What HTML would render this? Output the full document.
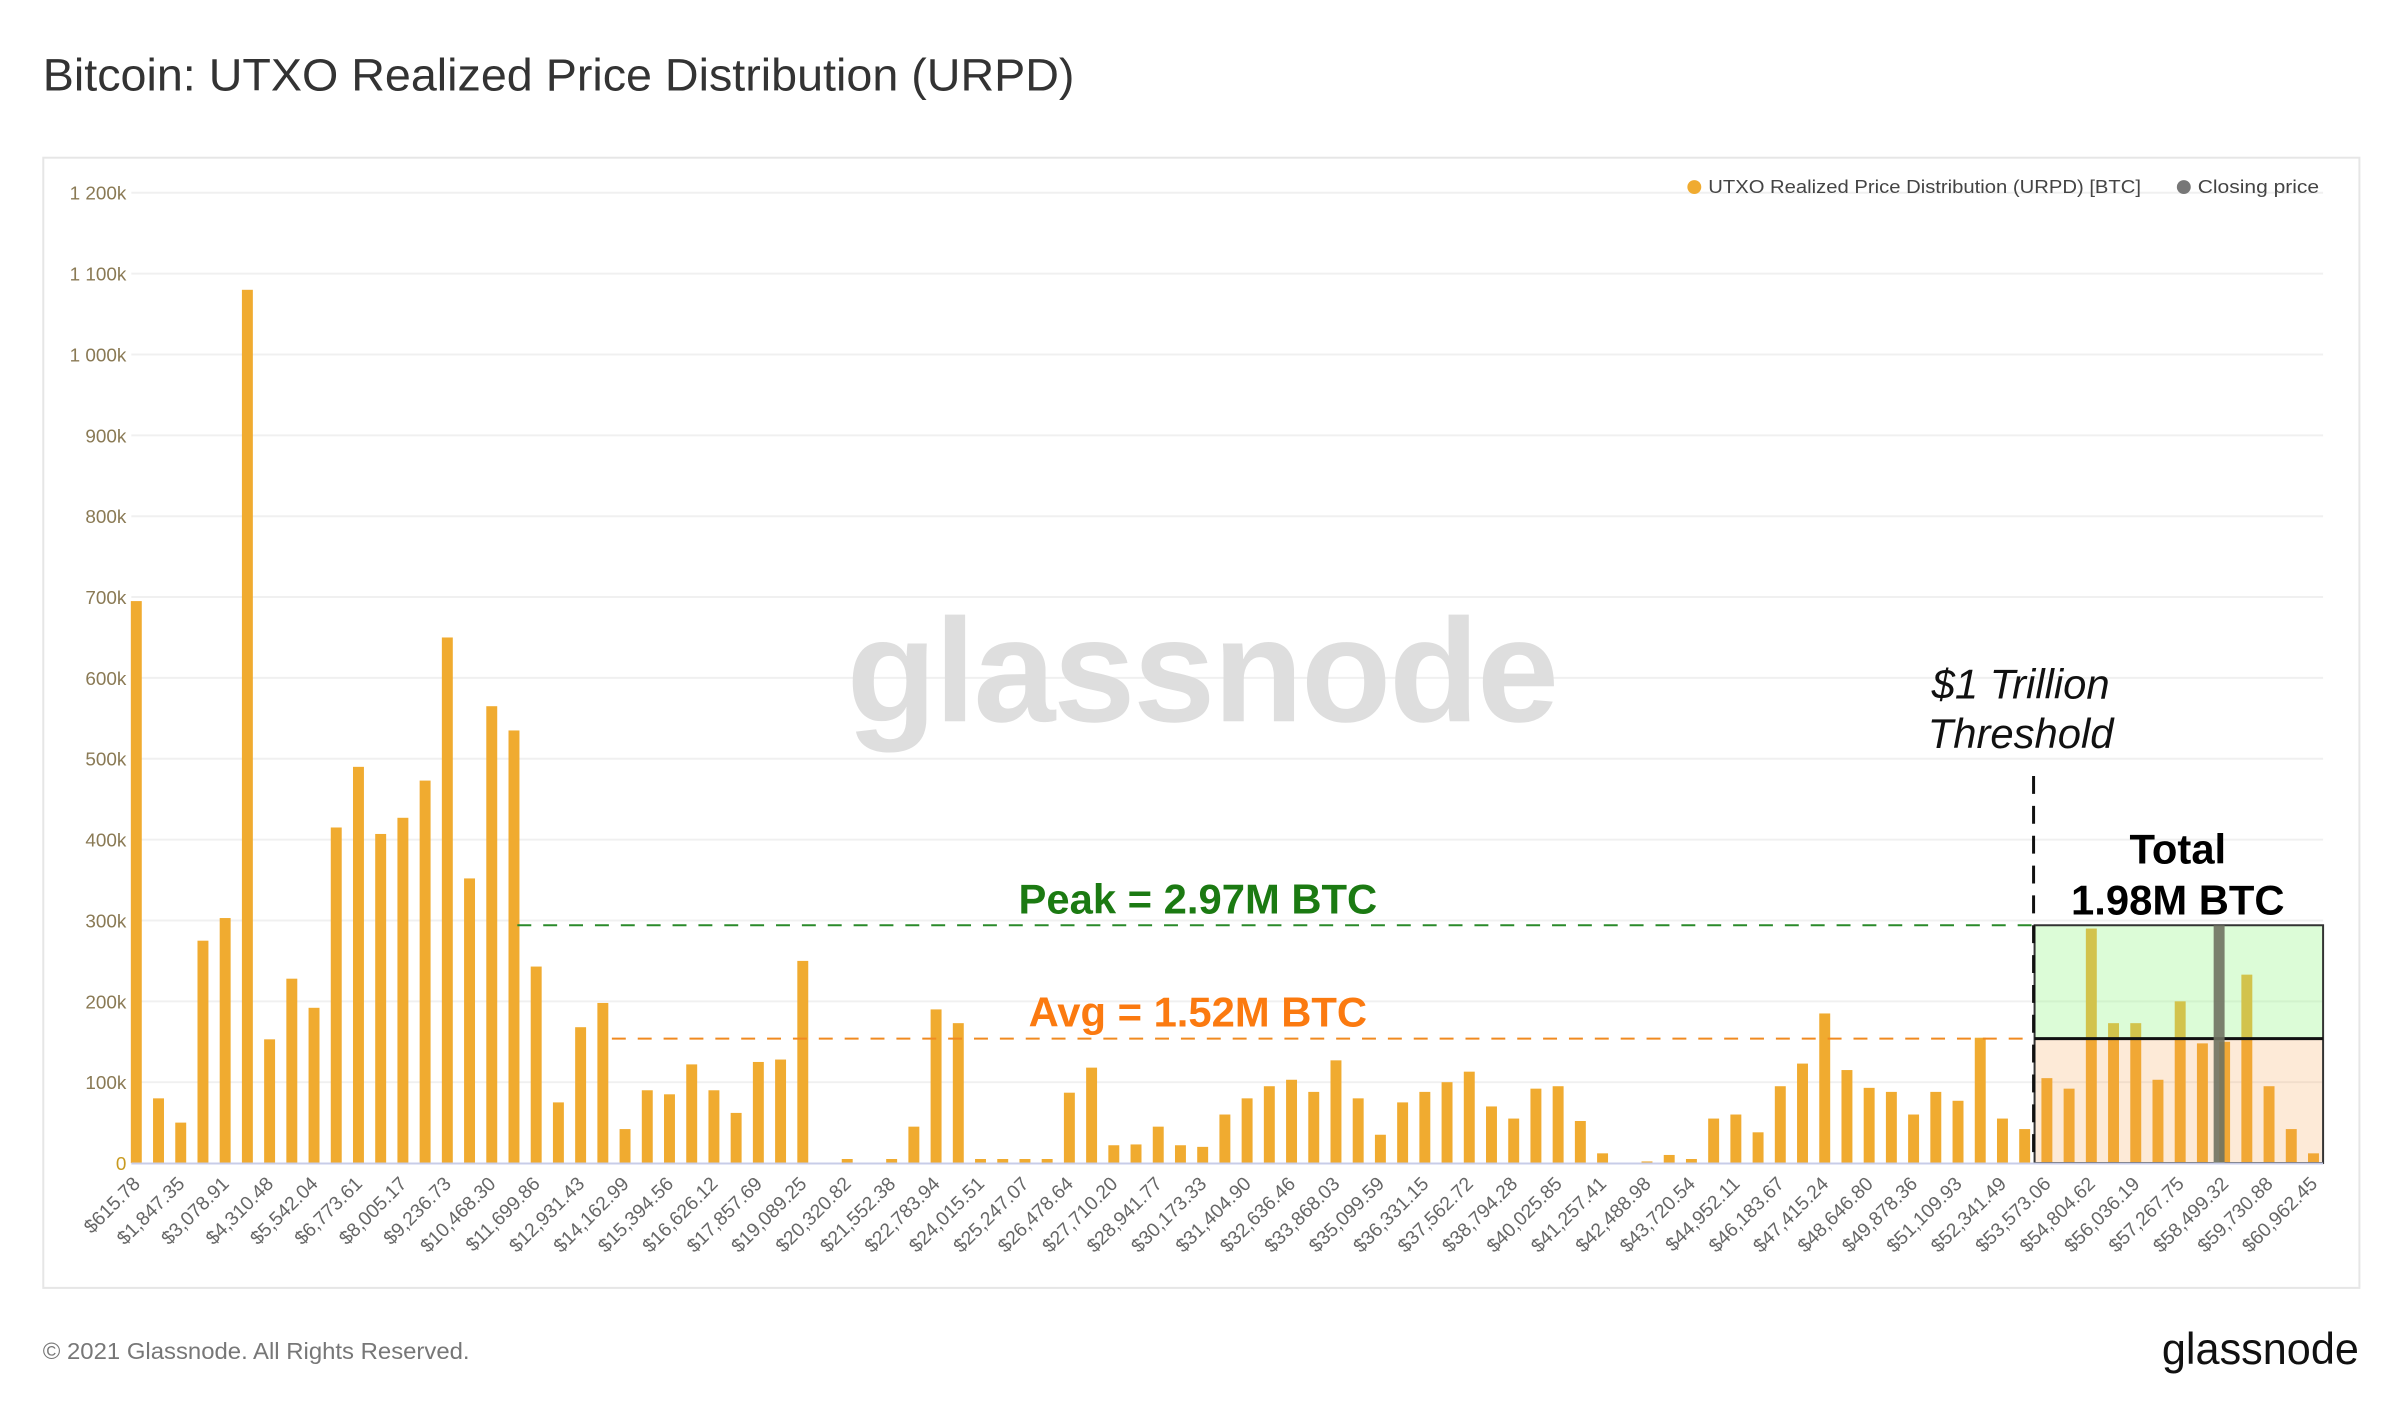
<!DOCTYPE html>
<html><head><meta charset="utf-8"><style>
html,body{margin:0;padding:0;background:#fff}
svg{display:block;font-family:"Liberation Sans",sans-serif}
</style></head><body>
<svg id="s" width="2400" height="1417" viewBox="0 0 2400 1417" xmlns="http://www.w3.org/2000/svg">
<rect width="2400" height="1417" fill="#fff"/>
<g transform="scale(0.9949)">
<text x="43" y="91" font-size="46" fill="#333" textLength="1037" lengthAdjust="spacingAndGlyphs">Bitcoin: UTXO Realized Price Distribution (URPD)</text>
<rect x="43.5" y="158.5" width="2328" height="1136" fill="none" stroke="#e6e6e6" stroke-width="2"/>
<g id="grid"></g>
<text x="1208" y="725" font-size="148" fill="#dedede" text-anchor="middle" font-weight="bold" letter-spacing="-2">glassnode</text>
<g id="bars"></g>
<line x1="520" y1="930" x2="2045" y2="930" stroke="#2a8a2a" stroke-width="2" stroke-dasharray="14,12"/>
<line x1="615" y1="1044" x2="2045" y2="1044" stroke="#f08a20" stroke-width="2" stroke-dasharray="14,12"/>
<rect x="2045" y="930" width="290" height="114" fill="rgb(150,245,135)" fill-opacity="0.33"/>
<rect x="2045" y="1044" width="290" height="125" fill="rgb(245,160,74)" fill-opacity="0.22"/>
<rect x="2045" y="930" width="290" height="239" fill="none" stroke="#333" stroke-width="2"/>
<line x1="2045" y1="1044" x2="2335" y2="1044" stroke="#111" stroke-width="3"/>
<line x1="2044" y1="780" x2="2044" y2="1169" stroke="#111" stroke-width="3" stroke-dasharray="18,12"/>
<rect id="close" x="2225" y="930" width="11" height="239" fill="#6f7262" fill-opacity="0.9"/>
<line x1="132" y1="1169.5" x2="2335" y2="1169.5" stroke="#c8cde8" stroke-width="2"/>
<text x="1204" y="918" font-size="42" font-weight="bold" fill="#1b7a12" text-anchor="middle">Peak = 2.97M BTC</text>
<text x="1204" y="1032" font-size="42" font-weight="bold" fill="#fb7a10" text-anchor="middle">Avg = 1.52M BTC</text>
<text x="2031" y="702" font-size="42" font-style="italic" fill="#111" text-anchor="middle">$1 Trillion</text>
<text x="2031" y="752" font-size="42" font-style="italic" fill="#111" text-anchor="middle">Threshold</text>
<text x="2189" y="868" font-size="42" font-weight="bold" fill="#000" text-anchor="middle">Total</text>
<text x="2189" y="919" font-size="42" font-weight="bold" fill="#000" text-anchor="middle">1.98M BTC</text>
<circle cx="1703" cy="188" r="7" fill="#f0ab30"/>
<text x="1717" y="194" font-size="19" fill="#444" textLength="435" lengthAdjust="spacingAndGlyphs">UTXO Realized Price Distribution (URPD) [BTC]</text>
<circle cx="2195" cy="188" r="7" fill="#777"/>
<text x="2209" y="194" font-size="19" fill="#444" textLength="122" lengthAdjust="spacingAndGlyphs">Closing price</text>
<g id="xl"></g>
<text x="43" y="1366" font-size="23" fill="#777" textLength="429" lengthAdjust="spacingAndGlyphs">© 2021 Glassnode. All Rights Reserved.</text>
<text x="2371" y="1371" font-size="45" fill="#111" text-anchor="end" textLength="198" lengthAdjust="spacingAndGlyphs">glassnode</text>
</g>
</svg>
<script>
var ns="http://www.w3.org/2000/svg";
function el(t,a,p,txt){var e=document.createElementNS(ns,t);for(var k in a)e.setAttribute(k,a[k]);if(txt!=null)e.textContent=txt;p.appendChild(e);return e;}
var base=1169,k=0.8127;
var g=document.getElementById('grid');
for(var i=0;i<=12;i++){var y=base-i*100*k;
 if(i>0)el('line',{x1:132,x2:2335,y1:y,y2:y,stroke:'#f0f0f0','stroke-width':2},g);
 var lab=i==0?'0':(i*100>=1000?'1 '+String(i*100-1000).padStart(3,'0')+'k':(i*100)+'k');
 el('text',{x:127,y:y+7,'font-size':19,fill:i==0?'#c89a20':'#8a7a55','text-anchor':'end'},g,lab);}
var v=[695,80,50,275,303,1080,153,228,192,415,490,407,427,473,650,352,565,535,243,75,168,198,42,90,85,122,90,62,125,128,250,0,5,0,5,45,190,173,5,5,5,5,87,118,22,23,45,22,20,60,80,95,103,88,127,80,35,75,88,100,113,70,55,92,95,52,12,0,2,10,5,55,60,38,95,123,185,115,93,88,60,88,77,155,55,42,105,92,290,173,173,103,200,148,150,233,95,42,12];
var L=["615.78","1,847.35","3,078.91","4,310.48","5,542.04","6,773.61","8,005.17","9,236.73","10,468.30","11,699.86","12,931.43","14,162.99","15,394.56","16,626.12","17,857.69","19,089.25","20,320.82","21,552.38","22,783.94","24,015.51","25,247.07","26,478.64","27,710.20","28,941.77","30,173.33","31,404.90","32,636.46","33,868.03","35,099.59","36,331.15","37,562.72","38,794.28","40,025.85","41,257.41","42,488.98","43,720.54","44,952.11","46,183.67","47,415.24","48,646.80","49,878.36","51,109.93","52,341.49","53,573.06","54,804.62","56,036.19","57,267.75","58,499.32","59,730.88","60,962.45"];
var b=document.getElementById('bars'),xl=document.getElementById('xl');
for(var i=0;i<v.length;i++){var cx=137+i*22.33;var h=v[i]*k;
 if(h>0)el('rect',{x:cx-5.5,y:base-h,width:11,height:h,fill:'#f0ab30'},b);
 if(i%2==0){var s='$'+L[i/2];
  el('text',{x:cx+5,y:base+22,'font-size':19.5,fill:'#666','text-anchor':'end',transform:'rotate(-45 '+(cx+5)+' '+(base+22)+')'},xl,s);}
}
</script>
</body></html>
